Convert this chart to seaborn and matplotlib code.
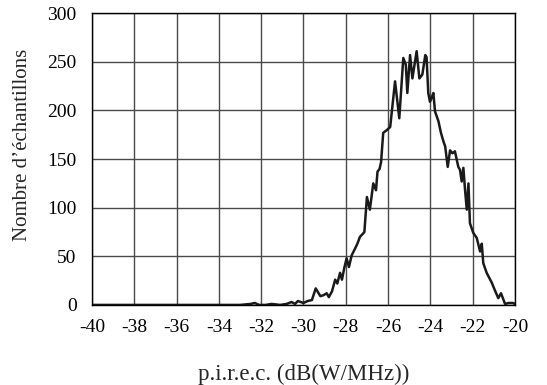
import numpy as np
import pandas as pd
import seaborn as sns
import matplotlib.pyplot as plt

# p.i.r.e.c. values (dB(W/MHz)) and sample counts
eirp = [-40.0, -33.0, -32.5, -32.3, -32.1, -31.8, -31.5, -31.1, -30.8, -30.56,
        -30.4, -30.26, -30.0, -29.8, -29.6, -29.42, -29.2, -29.05, -28.9, -28.8,
        -28.65, -28.5, -28.4, -28.27, -28.18, -28.07, -27.96, -27.85, -27.72, -27.56,
        -27.45, -27.33, -27.2, -27.12, -27.0, -26.86, -26.7, -26.57, -26.5, -26.4,
        -26.33, -26.23, -26.05, -25.9, -25.67, -25.47, -25.28, -25.16, -25.09, -24.96,
        -24.85, -24.65, -24.52, -24.38, -24.24, -24.18, -24.1, -24.02, -23.94, -23.86,
        -23.78, -23.7, -23.62, -23.5, -23.38, -23.3, -23.18, -23.07, -22.96, -22.84,
        -22.68, -22.6, -22.52, -22.44, -22.36, -22.28, -22.2, -22.13, -21.97, -21.81,
        -21.65, -21.57, -21.5, -21.34, -21.1, -20.95, -20.79, -20.66, -20.47, -20.3,
        -20.1, -20.0]
counts = [0, 0, 1, 2, 0, 0, 1, 0, 1, 3,
          1, 4, 2, 4, 5, 17, 9, 10, 12, 8,
          14, 26, 22, 33, 26, 38, 48, 39, 51, 58,
          63, 70, 73, 75, 111, 98, 125, 118, 137, 140,
          147, 177, 180, 183, 230, 192, 254, 247, 218, 257,
          233, 261, 233, 237, 257, 255, 218, 209, 213, 218,
          199, 194, 189, 177, 168, 163, 142, 159, 156, 158,
          142, 139, 127, 141, 118, 98, 125, 84, 74, 69,
          55, 63, 43, 33, 23, 15, 7, 12, 1, 2,
          2, 1]

df = pd.DataFrame({"eirp": eirp, "count": counts})

sns.set_theme(style="white")
plt.rcParams["font.family"] = ["Liberation Serif", "DejaVu Serif"]
plt.rcParams["axes.unicode_minus"] = False

fig = plt.figure(figsize=(5.47, 3.85), dpi=100)
ax = fig.add_axes([0.168, 0.208, 0.7735, 0.7575])

sns.lineplot(data=df, x="eirp", y="count", color="#1a1a1a", linewidth=1.8, ax=ax)

ax.set_xlim(-40, -20)
ax.set_ylim(0, 300)
ax.set_xticks(np.arange(-40, -19, 2))
ax.set_yticks(np.arange(0, 301, 50))
ax.grid(True, color="#4a4a4a", linewidth=1.0)
for s in ax.spines.values():
    s.set_color("black")
    s.set_linewidth(1.0)
ax.tick_params(axis="both", which="both", length=0, labelsize=14, labelcolor="black")
ax.tick_params(axis="x", pad=10)
ax.tick_params(axis="y", pad=11)

ax.set_xlabel("p.i.r.e.c. (dB(W/MHz))", fontsize=16.5, labelpad=20)
ax.set_ylabel("Nombre d\u2019échantillons", fontsize=15)
ax.yaxis.set_label_coords(-0.142, 0.548)

fig.savefig("out.png", dpi=100)
